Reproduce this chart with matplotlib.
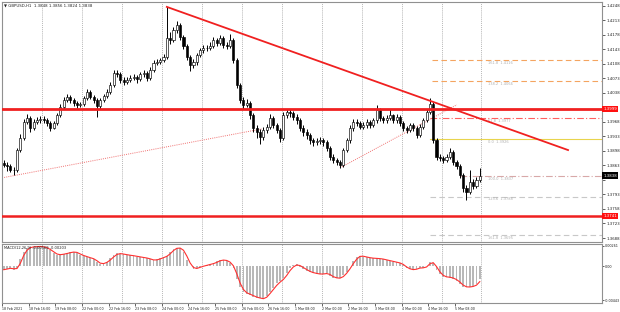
import numpy as np
import matplotlib
matplotlib.use('Agg')
import matplotlib.pyplot as plt
import matplotlib.transforms as mtransforms

# GBPUSD 2-hour candles, 18 Feb - 5 Mar 2021
first_open = 1.3868
closes = [1.3864, 1.3862, 1.3852, 1.3852, 1.3900, 1.3929, 1.3968, 1.3977, 1.3953, 1.3968,
          1.3972, 1.3975, 1.3972, 1.3965, 1.3953, 1.3965, 1.3984, 1.4004, 1.4021, 1.4028,
          1.4021, 1.4013, 1.4009, 1.4011, 1.4025, 1.4040, 1.4028, 1.4021, 1.4006, 1.4021,
          1.4030, 1.4040, 1.4057, 1.4086, 1.4083, 1.4069, 1.4064, 1.4069, 1.4074, 1.4076,
          1.4071, 1.4083, 1.4086, 1.4074, 1.4093, 1.4110, 1.4112, 1.4117, 1.4124, 1.4170,
          1.4165, 1.4189, 1.4201, 1.4172, 1.4151, 1.4124, 1.4105, 1.4112, 1.4129, 1.4141,
          1.4146, 1.4146, 1.4151, 1.4165, 1.4158, 1.4170, 1.4153, 1.4151, 1.4165, 1.4117,
          1.4057, 1.4021, 1.4009, 1.4013, 1.3984, 1.3953, 1.3943, 1.3931, 1.3948, 1.3956,
          1.3977, 1.3960, 1.3948, 1.3929, 1.3984, 1.3992, 1.3989, 1.3980, 1.3972, 1.3953,
          1.3943, 1.3936, 1.3924, 1.3919, 1.3922, 1.3924, 1.3919, 1.3905, 1.3883, 1.3876,
          1.3871, 1.3864, 1.3900, 1.3924, 1.3953, 1.3968, 1.3965, 1.3956, 1.3960, 1.3968,
          1.3960, 1.3972, 1.3997, 1.3977, 1.3972, 1.3977, 1.3984, 1.3972, 1.3980, 1.3965,
          1.3953, 1.3948, 1.3960, 1.3953, 1.3936, 1.3956, 1.3972, 1.3992, 1.4011, 1.3924,
          1.3883, 1.3881, 1.3876, 1.3883, 1.3895, 1.3871, 1.3862, 1.3840, 1.3809, 1.3799,
          1.3823, 1.3814, 1.3828, 1.3838]
highs = [1.3875, 1.3872, 1.3866, 1.3860, 1.3906, 1.3938, 1.3975, 1.3986, 1.3982, 1.3974,
         1.3980, 1.3982, 1.3981, 1.3977, 1.3969, 1.3970, 1.3990, 1.4010, 1.4027, 1.4035,
         1.4032, 1.4025, 1.4018, 1.4017, 1.4030, 1.4047, 1.4044, 1.4032, 1.4025, 1.4026,
         1.4036, 1.4046, 1.4063, 1.4093, 1.4094, 1.4088, 1.4075, 1.4076, 1.4080, 1.4083,
         1.4082, 1.4089, 1.4093, 1.4090, 1.4099, 1.4117, 1.4119, 1.4123, 1.4131, 1.4245,
         1.4184, 1.4196, 1.4212, 1.4206, 1.4178, 1.4156, 1.4130, 1.4120, 1.4135, 1.4147,
         1.4153, 1.4154, 1.4160, 1.4172, 1.4170, 1.4178, 1.4174, 1.4160, 1.4180, 1.4170,
         1.4122, 1.4062, 1.4027, 1.4024, 1.4018, 1.3990, 1.3960, 1.3950, 1.3955, 1.3963,
         1.3986, 1.3982, 1.3966, 1.3953, 1.3992, 1.4000, 1.3999, 1.3995, 1.3986, 1.3978,
         1.3960, 1.3950, 1.3942, 1.3930, 1.3930, 1.3932, 1.3930, 1.3924, 1.3910, 1.3890,
         1.3882, 1.3876, 1.3906, 1.3930, 1.3960, 1.3975, 1.3974, 1.3970, 1.3967, 1.3975,
         1.3973, 1.3978, 1.4009, 1.4002, 1.3983, 1.3985, 1.3998, 1.3988, 1.3987, 1.3985,
         1.3970, 1.3958, 1.3966, 1.3965, 1.3958, 1.3962, 1.3978, 1.3998, 1.4025, 1.4016,
         1.3928, 1.3890, 1.3886, 1.3890, 1.3905, 1.3899, 1.3876, 1.3866, 1.3845, 1.3815,
         1.3852, 1.3830, 1.3836, 1.3856]
lows = [1.3858, 1.3850, 1.3846, 1.3841, 1.3848, 1.3895, 1.3925, 1.3962, 1.3944, 1.3948,
        1.3962, 1.3966, 1.3965, 1.3958, 1.3947, 1.3950, 1.3961, 1.3980, 1.3999, 1.4015,
        1.4014, 1.4007, 1.4002, 1.4003, 1.4007, 1.4020, 1.4022, 1.4013, 1.3980, 1.3998,
        1.4016, 1.4025, 1.4035, 1.4052, 1.4076, 1.4062, 1.4056, 1.4058, 1.4063, 1.4068,
        1.4062, 1.4066, 1.4077, 1.4066, 1.4069, 1.4088, 1.4104, 1.4107, 1.4112, 1.4119,
        1.4155, 1.4160, 1.4183, 1.4165, 1.4143, 1.4116, 1.4090, 1.4098, 1.4106, 1.4124,
        1.4135, 1.4138, 1.4140, 1.4146, 1.4150, 1.4152, 1.4146, 1.4143, 1.4146, 1.4110,
        1.4050, 1.4013, 1.4000, 1.4003, 1.3976, 1.3944, 1.3930, 1.3914, 1.3925, 1.3940,
        1.3950, 1.3952, 1.3940, 1.3920, 1.3925, 1.3978, 1.3980, 1.3972, 1.3963, 1.3945,
        1.3935, 1.3927, 1.3915, 1.3910, 1.3912, 1.3914, 1.3910, 1.3898, 1.3876, 1.3868,
        1.3864, 1.3857, 1.3860, 1.3895, 1.3918, 1.3947, 1.3958, 1.3950, 1.3950, 1.3954,
        1.3953, 1.3955, 1.3966, 1.3970, 1.3964, 1.3966, 1.3972, 1.3965, 1.3966, 1.3958,
        1.3946, 1.3940, 1.3943, 1.3945, 1.3928, 1.3931, 1.3950, 1.3967, 1.3987, 1.3918,
        1.3876, 1.3874, 1.3869, 1.3870, 1.3878, 1.3864, 1.3855, 1.3833, 1.3800, 1.3780,
        1.3794, 1.3805, 1.3808, 1.3824]

macd_hist = [-0.00046, -0.00033, -0.00026, -0.00046, -0.00020, 0.00091, 0.00182, 0.00228, 0.00247, 0.00251,
             0.00254, 0.00254, 0.00247, 0.00228, 0.00202, 0.00169, 0.00143, 0.00150, 0.00156, 0.00169,
             0.00178, 0.00185, 0.00169, 0.00143, 0.00130, 0.00113, 0.00104, 0.00085, 0.00052, 0.00022,
             0.00039, 0.00056, 0.00098, 0.00137, 0.00163, 0.00159, 0.00150, 0.00143, 0.00137, 0.00130,
             0.00121, 0.00114, 0.00107, 0.00100, 0.00085, 0.00072, 0.00085, 0.00100, 0.00117, 0.00134,
             0.00182, 0.00221, 0.00238, 0.00228, 0.00182, 0.00078, 0.00000, -0.00039, -0.00026, -0.00009,
             0.00003, 0.00013, 0.00026, 0.00036, 0.00059, 0.00078, 0.00075, 0.00068, 0.00033, -0.00030,
             -0.00169, -0.00273, -0.00338, -0.00358, -0.00377, -0.00397, -0.00412, -0.00420, -0.00429, -0.00384,
             -0.00332, -0.00280, -0.00225, -0.00195, -0.00156, -0.00091, -0.00030, 0.00007, 0.00020, -0.00007,
             -0.00033, -0.00059, -0.00082, -0.00091, -0.00101, -0.00108, -0.00101, -0.00095, -0.00124, -0.00152,
             -0.00156, -0.00160, -0.00117, -0.00074, 0.00000, 0.00059, 0.00117, 0.00134, 0.00121, 0.00113,
             0.00104, 0.00100, 0.00098, 0.00094, 0.00087, 0.00074, 0.00065, 0.00055, 0.00046, 0.00035,
             0.00007, -0.00030, -0.00043, -0.00052, -0.00033, -0.00022, -0.00026, 0.00000, 0.00056, 0.00033,
             -0.00046, -0.00104, -0.00139, -0.00143, -0.00150, -0.00163, -0.00189, -0.00228, -0.00269, -0.00273,
             -0.00273, -0.00260, -0.00238, -0.00169]
macd_signal = [-0.00048, -0.00040, -0.00030, -0.00036, -0.00033, 0.00035, 0.00136, 0.00205, 0.00238, 0.00249,
               0.00252, 0.00254, 0.00250, 0.00238, 0.00215, 0.00186, 0.00156, 0.00147, 0.00153, 0.00162,
               0.00173, 0.00181, 0.00177, 0.00156, 0.00137, 0.00122, 0.00108, 0.00095, 0.00069, 0.00037,
               0.00031, 0.00047, 0.00077, 0.00117, 0.00150, 0.00161, 0.00155, 0.00147, 0.00140, 0.00134,
               0.00126, 0.00118, 0.00111, 0.00104, 0.00093, 0.00079, 0.00079, 0.00092, 0.00108, 0.00126,
               0.00158, 0.00201, 0.00230, 0.00233, 0.00205, 0.00130, 0.00039, -0.00020, -0.00032, -0.00018,
               -0.00003, 0.00008, 0.00020, 0.00031, 0.00047, 0.00068, 0.00077, 0.00072, 0.00050, 0.00002,
               -0.00100, -0.00221, -0.00305, -0.00348, -0.00367, -0.00387, -0.00404, -0.00416, -0.00425, -0.00406,
               -0.00358, -0.00306, -0.00252, -0.00210, -0.00175, -0.00123, -0.00060, -0.00012, 0.00013, 0.00006,
               -0.00020, -0.00046, -0.00070, -0.00086, -0.00096, -0.00104, -0.00104, -0.00098, -0.00110, -0.00138,
               -0.00154, -0.00158, -0.00138, -0.00095, -0.00037, 0.00030, 0.00088, 0.00125, 0.00127, 0.00117,
               0.00108, 0.00102, 0.00099, 0.00096, 0.00090, 0.00080, 0.00069, 0.00060, 0.00050, 0.00040,
               0.00021, -0.00012, -0.00036, -0.00047, -0.00042, -0.00027, -0.00024, -0.00013, 0.00028, 0.00044,
               -0.00007, -0.00075, -0.00121, -0.00141, -0.00146, -0.00156, -0.00176, -0.00208, -0.00248, -0.00271,
               -0.00273, -0.00266, -0.00249, -0.00203]

time_labels = ['18 Feb 2021', '18 Feb 16:00', '19 Feb 08:00', '22 Feb 00:00', '22 Feb 16:00',
               '23 Feb 08:00', '24 Feb 00:00', '24 Feb 16:00', '25 Feb 08:00', '26 Feb 00:00',
               '26 Feb 16:00', '1 Mar 08:00', '2 Mar 00:00', '2 Mar 16:00', '3 Mar 08:00',
               '4 Mar 00:00', '4 Mar 16:00', '5 Mar 08:00']

# drawn objects (bar index, price)
resistance = 1.3999
support = 1.3741
trend_x, trend_y = [49, 169.5], [1.4245, 1.3900]
dot1_x, dot1_y = [-0.5, 77.6], [1.3833, 1.3951]
dot2_x, dot2_y = [101, 136.1], [1.3857, 1.4009]
fib_prices = [1.4116, 1.4066, 1.3977, 1.3926, 1.3837, 1.3788, 1.3695]
fib_names = ['161.8', '138.2', '61.8', '0.0', '100.0', '123.6', '161.8']
fib_start = [128.6, 128.6, 128, 128, 137, 128, 128]
fib_colors = ['#f4a460', '#f4a460', '#ff6060', '#e8d44d', '#d8a8a8', '#c8c8c8', '#c8c8c8']
fib_styles = [(0, (5, 3)), (0, (5, 3)), (0, (6, 2, 1, 2)), '-', (0, (6, 2, 1, 2)), (0, (5, 3)), (0, (5, 3))]

n = len(closes)
idx = np.arange(n)
opens = np.array([first_open] + closes[:-1])
closes = np.array(closes)

fig = plt.figure(figsize=(6.2, 3.12), dpi=100, facecolor='white')
ax = fig.add_axes([2 / 620, 70 / 312, 600 / 620, 240 / 312])
ax2 = fig.add_axes([2 / 620, 9 / 312, 600 / 620, 59 / 312])

xlim = (-0.51, 179.7)
for a in (ax, ax2):
    a.set_xlim(*xlim)
    for s in a.spines.values():
        s.set_color('#909090')
        s.set_linewidth(0.8)
    for k in range(1, 13):
        a.axvline(12 * k - 0.5, color='#a0a0a0', lw=0.6, ls=(0, (1, 1.3)), zorder=0)

ax.set_ylim(1.36784, 1.42568)

# candles
ax.vlines(idx, lows, highs, color='black', lw=0.7, zorder=3)
bull = closes >= opens
body_lo = np.minimum(opens, closes)
body_h = np.maximum(np.abs(closes - opens), 0.00004)
ax.bar(idx[bull], body_h[bull], bottom=body_lo[bull], width=0.62, color='white',
       edgecolor='black', lw=0.45, zorder=4)
ax.bar(idx[~bull], body_h[~bull], bottom=body_lo[~bull], width=0.62, color='black',
       edgecolor='black', lw=0.45, zorder=4)

# fibo levels
for p, nm, st, c, ls in zip(fib_prices, fib_names, fib_start, fib_colors, fib_styles):
    ax.plot([st, xlim[1]], [p, p], color=c, ls=ls, lw=0.8, zorder=2)
    ax.text(145.4, p - 0.0002, '%s  %.4f' % (nm, p), fontsize=2.6, color='#b0b0b0',
            va='top', ha='left', zorder=2)

# support / resistance / trend lines
ax.axhline(resistance, color='#f02020', lw=2.0, zorder=5)
ax.axhline(support, color='#f02020', lw=1.8, zorder=5)
ax.plot(trend_x, trend_y, color='#f02020', lw=1.3, zorder=5)
ax.plot(dot1_x, dot1_y, color='#f07070', lw=0.7, ls=(0, (1, 1.2)), zorder=2)
ax.plot(dot2_x, dot2_y, color='#f07070', lw=0.7, ls=(0, (1, 1.2)), zorder=2)

# price axis (labels under the marker boxes are left out)
ax.yaxis.tick_right()
ticks = [1.3688 + 0.0035 * k for k in range(17)]
ax.set_yticks(ticks)
ax.set_yticklabels(['' if abs(t - 1.4003) < 1e-6 or abs(t - 1.3828) < 1e-6 else '%.4f' % t
                    for t in ticks])
ax.tick_params(axis='y', labelsize=2.8, length=2, width=0.5, pad=1, colors='#202020')
ax.set_xticks([])
trans = mtransforms.blended_transform_factory(ax.transAxes, ax.transData)
for p, fc in [(resistance, '#ff1010'), (support, '#ff1010'), (closes[-1], 'black')]:
    ax.text(1.002, p, '%.4f' % p, transform=trans, fontsize=2.8, color='white', va='center',
            ha='left', bbox=dict(boxstyle='square,pad=0.35', fc=fc, ec='none'), zorder=6)

ax.text(0.004, 0.995, '\u25bc GBPUSD,H1  1.3848 1.3856 1.3824 1.3838', transform=ax.transAxes,
        fontsize=2.8, va='top', ha='left', color='#202020')

# MACD
ax2.bar(idx, macd_hist, width=0.55, color='#b8b8b8', zorder=2)
ax2.plot(idx, macd_signal, color='#ff3030', lw=0.8, zorder=3)
ax2.set_ylim(-0.00481, 0.00286)
ax2.yaxis.tick_right()
ax2.set_yticks([0.00261, 0.0, -0.00443])
ax2.set_yticklabels(['0.00261', '0.00', '-0.00443'])
ax2.tick_params(axis='y', labelsize=2.4, length=1.5, width=0.5, pad=0.8, colors='#202020')
ax2.text(0.004, 0.97, 'MACD(12,26,9) -0.00169 -0.00203', transform=ax2.transAxes,
         fontsize=2.6, va='top', ha='left', color='#202020')

xt = [8 * k - 0.5 for k in range(len(time_labels))]
ax2.set_xticks(xt)
ax2.set_xticklabels(time_labels)
ax2.tick_params(axis='x', labelsize=2.3, length=2, width=0.5, pad=1, colors='#202020')
for lab in ax2.get_xticklabels():
    lab.set_ha('left')

fig.savefig('out.png', dpi=100, facecolor='white')
